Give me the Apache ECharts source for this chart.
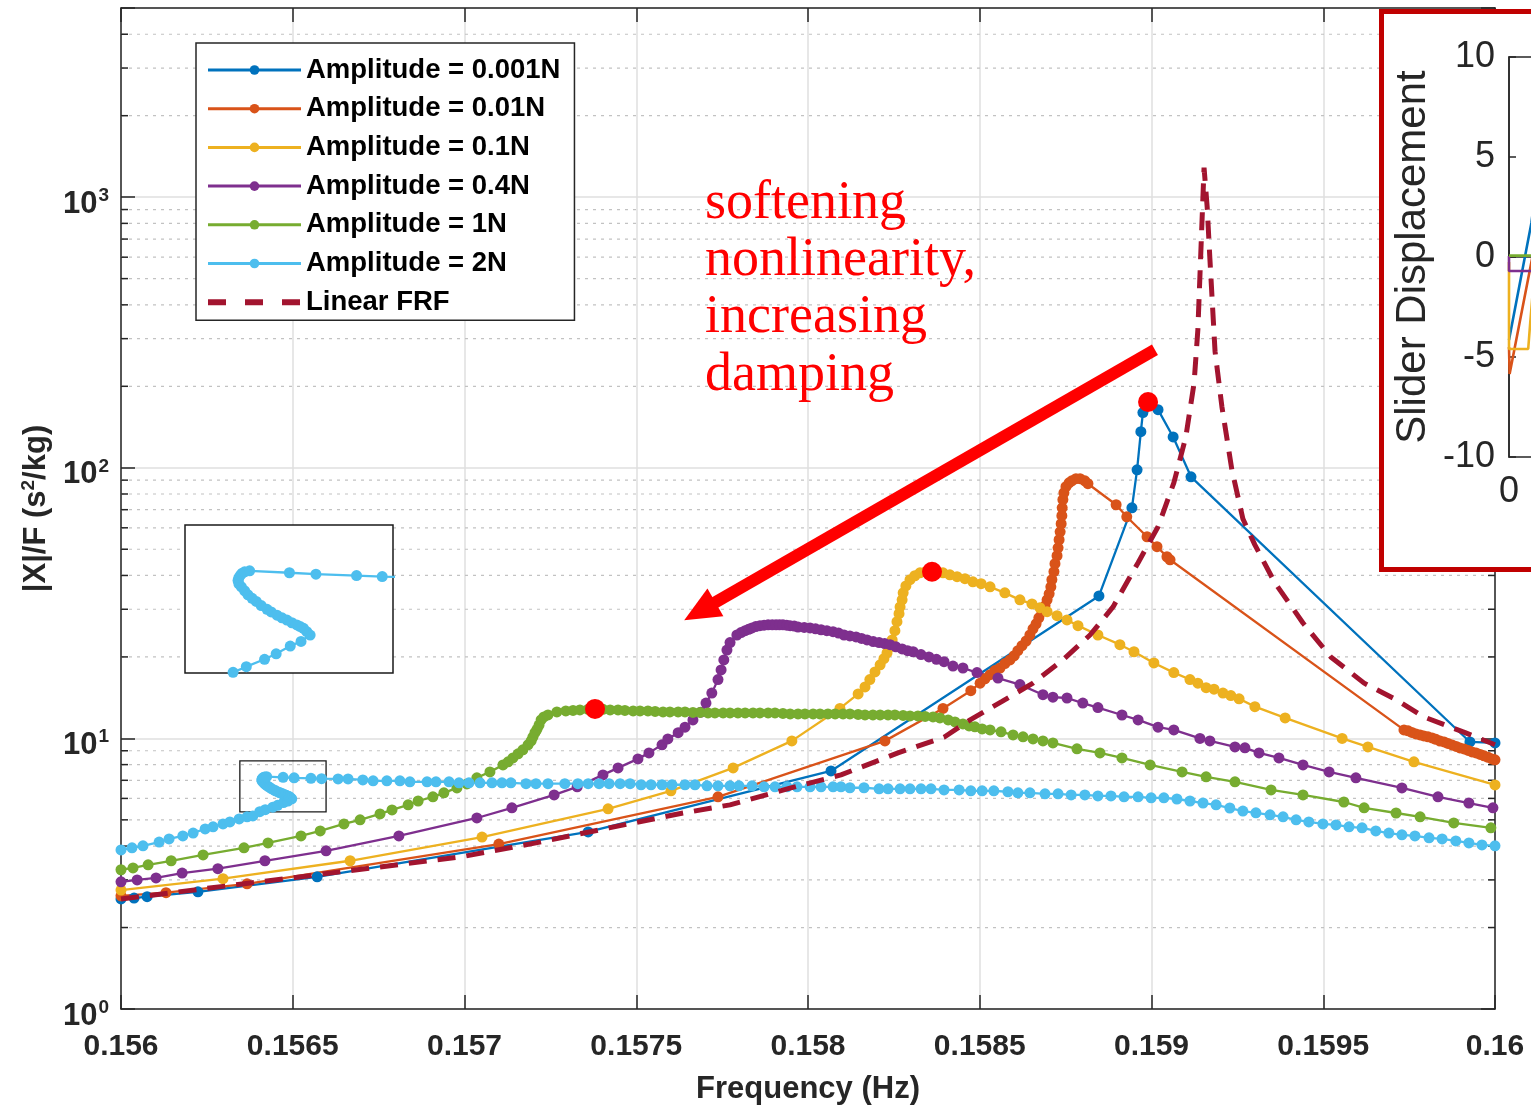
<!DOCTYPE html>
<html>
<head>
<meta charset="utf-8">
<title>Nonlinear FRF – softening and damping</title>
<script src="https://cdn.jsdelivr.net/npm/echarts@6/dist/echarts.min.js"></script>
<style>
  html, body { margin: 0; padding: 0; background: #fff; }
  #chart { width: 1531px; height: 1110px; }
</style>
</head>
<body>
<div id="chart"></div>
<script>
// ---------------- axes ----------------
const X_MIN = 0.156, X_MAX = 0.16, X_STEP = 0.0005;
const Y_MIN = 1, Y_MAX = 5000;
const xTickLabels = ['0.156', '0.1565', '0.157', '0.1575', '0.158', '0.1585', '0.159', '0.1595', '0.16'];
const yTickExponents = ['0', '1', '2', '3'];
const minorTickValues = [2, 3, 4, 5, 6, 7, 8, 9, 20, 30, 40, 50, 60, 70, 80, 90,
  200, 300, 400, 500, 600, 700, 800, 900, 2000, 3000, 4000];

// ---------------- series: [frequency (Hz), |X|/F (s^2/kg)] ----------------
const amp0001 = [[0.156000,2.55],[0.156038,2.57],[0.156076,2.60],[0.156224,2.71],[0.156571,3.08],
  [0.157360,4.51],[0.158067,7.58],[0.158847,33.6],[0.158943,71.1],[0.158958,98.3],[0.158969,136],
  [0.158975,160],[0.158990,175],[0.159019,164],[0.159063,130],[0.159115,92.6],[0.159927,9.70],[0.160000,9.62]];

const amp001 = [[0.156000,2.62],[0.156131,2.69],[0.156367,2.90],[0.157100,4.07],[0.157738,6.08],
  [0.158224,9.79],[0.158393,12.9],[0.158474,15.0],[0.158501,16.0],[0.158515,16.6],[0.158530,17.2],
  [0.158544,17.8],[0.158559,18.2],[0.158573,18.9],[0.158588,19.5],[0.158600,20.2],[0.158611,21.1],
  [0.158623,22.0],[0.158635,22.9],[0.158646,24.1],[0.158655,25.4],[0.158664,26.5],[0.158672,27.9],
  [0.158681,29.4],[0.158690,30.9],[0.158696,32.5],[0.158702,34.2],[0.158707,36.3],[0.158710,38.6],
  [0.158716,41.3],[0.158719,44.2],[0.158725,47.3],[0.158728,50.6],[0.158731,54.2],[0.158734,58.0],
  [0.158737,62.1],[0.158739,66.5],[0.158740,71.1],[0.158742,76.2],[0.158745,80.8],[0.158751,85.1],
  [0.158760,88.0],[0.158768,89.5],[0.158780,91.1],[0.158792,91.1],[0.158806,89.5],[0.158815,87.3],
  [0.158897,73.0],[0.158928,65.9],[0.158987,55.6],[0.159016,51.1],[0.159045,46.9],[0.159054,45.7],
  [0.159735,10.75],[0.159747,10.66],[0.159758,10.52],[0.159770,10.39],[0.159782,10.30],[0.159793,10.21],
  [0.159805,10.13],[0.159817,10.04],[0.159828,9.92],[0.159840,9.78],[0.159852,9.70],[0.159863,9.58],
  [0.159875,9.46],[0.159887,9.34],[0.159898,9.22],[0.159910,9.14],[0.159922,9.03],[0.159933,8.91],
  [0.159945,8.84],[0.159957,8.72],[0.159968,8.62],[0.159980,8.51],[0.159991,8.40],[0.160000,8.33]];

const amp01 = [[0.156000,2.75],[0.156297,3.03],[0.156667,3.53],[0.157051,4.32],[0.157418,5.49],
  [0.157601,6.40],[0.157782,7.78],[0.157953,9.79],[0.158093,12.9],[0.158146,14.6],[0.158166,15.5],
  [0.158180,16.5],[0.158195,17.6],[0.158210,18.7],[0.158221,19.7],[0.158230,20.7],[0.158239,21.8],
  [0.158245,23.1],[0.158253,25.0],[0.158259,27.0],[0.158265,28.9],[0.158268,30.6],[0.158274,32.5],
  [0.158277,34.5],[0.158285,36.6],[0.158297,38.6],[0.158311,39.9],[0.158326,40.9],[0.158343,41.3],
  [0.158361,41.3],[0.158393,40.9],[0.158413,40.2],[0.158434,39.6],[0.158457,38.9],[0.158480,37.9],
  [0.158504,37.3],[0.158530,36.3],[0.158573,34.5],[0.158617,32.5],[0.158652,31.4],[0.158675,30.4],
  [0.158696,29.4],[0.158725,28.4],[0.158754,27.4],[0.158786,26.1],[0.158844,24.1],[0.158908,22.2],
  [0.158949,20.9],[0.159007,19.0],[0.159065,17.5],[0.159112,16.5],[0.159135,16.0],[0.159159,15.4],
  [0.159182,15.2],[0.159208,14.7],[0.159231,14.4],[0.159255,14.0],[0.159301,13.1],[0.159389,11.9],
  [0.159555,10.0],[0.159630,9.30],[0.159764,8.19],[0.160000,6.73]];

const amp04 = [[0.156000,2.95],[0.156047,3.00],[0.156102,3.05],[0.156178,3.18],[0.156282,3.30],
  [0.156419,3.53],[0.156597,3.84],[0.156809,4.36],[0.157036,5.08],[0.157138,5.54],[0.157261,6.18],
  [0.157328,6.62],[0.157403,7.33],[0.157447,7.78],[0.157505,8.40],[0.157537,8.84],[0.157575,9.47],
  [0.157592,9.95],[0.157622,10.5],[0.157642,11.0],[0.157665,11.7],[0.157688,12.5],[0.157703,13.5],
  [0.157720,14.7],[0.157738,16.5],[0.157747,17.9],[0.157755,19.5],[0.157764,21.2],[0.157773,22.6],
  [0.157793,24.1],[0.157805,24.6],[0.157817,25.0],[0.157827,25.3],[0.157837,25.6],[0.157848,25.9],
  [0.157860,26.1],[0.157872,26.2],[0.157884,26.3],[0.157896,26.3],[0.157907,26.3],[0.157917,26.3],
  [0.157927,26.3],[0.157938,26.2],[0.157948,26.1],[0.157960,26.0],[0.157971,25.8],[0.157989,25.7],
  [0.158006,25.6],[0.158022,25.4],[0.158038,25.2],[0.158055,25.0],[0.158073,24.8],[0.158089,24.5],
  [0.158105,24.1],[0.158122,23.9],[0.158140,23.7],[0.158156,23.4],[0.158172,23.1],[0.158190,22.8],
  [0.158207,22.6],[0.158223,22.4],[0.158239,22.2],[0.158256,21.8],[0.158274,21.4],[0.158290,21.1],
  [0.158306,20.9],[0.158329,20.4],[0.158352,20.0],[0.158374,19.6],[0.158396,19.2],[0.158422,18.5],
  [0.158451,18.2],[0.158492,17.5],[0.158553,16.7],[0.158617,15.8],[0.158684,14.5],[0.158713,14.2],
  [0.158754,14.1],[0.158800,13.5],[0.158844,13.0],[0.158914,12.2],[0.158961,11.7],[0.159019,11.0],
  [0.159065,10.75],[0.159141,10.0],[0.159170,9.79],[0.159243,9.30],[0.159272,9.23],[0.159313,8.84],
  [0.159371,8.47],[0.159441,7.98],[0.159517,7.52],[0.159595,7.15],[0.159729,6.56],[0.159834,6.08],
  [0.159924,5.77],[0.159994,5.54]];

const amp1 = [[0.156000,3.27],[0.156035,3.32],[0.156079,3.41],[0.156146,3.53],[0.156239,3.71],
  [0.156358,3.94],[0.156428,4.11],[0.156524,4.36],[0.156580,4.55],[0.156649,4.83],[0.156696,5.00],
  [0.156754,5.26],[0.156789,5.44],[0.156836,5.68],[0.156865,5.87],[0.156908,6.08],[0.156940,6.29],
  [0.156978,6.56],[0.157007,6.79],[0.157036,7.15],[0.157074,7.52],[0.157112,7.98],[0.157127,8.19],
  [0.157141,8.47],[0.157156,8.77],[0.157170,9.07],[0.157185,9.47],[0.157194,9.79],[0.157199,10.1],
  [0.157205,10.5],[0.157211,10.8],[0.157217,11.2],[0.157223,11.7],[0.157231,12.0],[0.157243,12.21],
  [0.157269,12.52],[0.157295,12.63],[0.157316,12.69],[0.157336,12.74],[0.157360,12.80],[0.157380,12.85],
  [0.157403,12.80],[0.157424,12.74],[0.157447,12.74],[0.157467,12.69],[0.157491,12.63],[0.157511,12.63],
  [0.157534,12.63],[0.157555,12.58],[0.157578,12.52],[0.157598,12.52],[0.157622,12.52],[0.157642,12.52],
  [0.157665,12.47],[0.157686,12.47],[0.157709,12.42],[0.157729,12.42],[0.157753,12.42],[0.157773,12.42],
  [0.157796,12.42],[0.157817,12.42],[0.157840,12.42],[0.157860,12.42],[0.157884,12.42],[0.157904,12.42],
  [0.157927,12.36],[0.157948,12.31],[0.157971,12.31],[0.157991,12.31],[0.158015,12.31],[0.158035,12.31],
  [0.158058,12.31],[0.158079,12.31],[0.158102,12.31],[0.158122,12.31],[0.158146,12.26],[0.158166,12.21],
  [0.158189,12.21],[0.158210,12.21],[0.158233,12.21],[0.158253,12.21],[0.158277,12.16],[0.158297,12.10],
  [0.158320,12.10],[0.158341,12.05],[0.158364,12.00],[0.158384,11.90],[0.158408,11.70],[0.158428,11.50],
  [0.158451,11.31],[0.158469,11.12],[0.158486,11.03],[0.158507,10.84],[0.158530,10.75],[0.158562,10.57],
  [0.158597,10.30],[0.158626,10.13],[0.158655,9.95],[0.158684,9.79],[0.158713,9.62],[0.158783,9.15],
  [0.158850,8.84],[0.158914,8.47],[0.158996,7.98],[0.159089,7.52],[0.159159,7.21],[0.159243,6.91],
  [0.159348,6.45],[0.159441,6.18],[0.159560,5.82],[0.159619,5.54],[0.159712,5.30],[0.159782,5.13],
  [0.159880,4.87],[0.159988,4.67]];

const amp2 = [[0.156000,3.87],[0.156032,3.94],[0.156064,4.01],[0.156111,4.14],[0.156140,4.25],
  [0.156180,4.36],[0.156210,4.47],[0.156245,4.63],[0.156268,4.71],[0.156297,4.83],[0.156317,4.91],
  [0.156344,5.04],[0.156367,5.13],[0.156384,5.17],[0.156404,5.36],[0.156420,5.45],[0.156442,5.57],
  [0.156456,5.66],[0.156473,5.79],[0.156486,5.87],[0.156497,5.98],[0.156493,6.04],[0.156489,6.10],
  [0.156485,6.13],[0.156481,6.16],[0.156475,6.20],[0.156469,6.25],[0.156463,6.29],[0.156457,6.34],
  [0.156450,6.40],[0.156445,6.45],[0.156438,6.52],[0.156432,6.60],[0.156427,6.66],[0.156422,6.73],
  [0.156418,6.81],[0.156414,6.89],[0.156411,6.95],[0.156410,7.02],[0.156411,7.08],[0.156413,7.13],
  [0.156415,7.17],[0.156418,7.20],[0.156424,7.22],[0.156472,7.18],[0.156504,7.15],[0.156553,7.12],
  [0.156584,7.10],[0.156632,7.08],[0.156661,7.08],[0.156704,7.02],[0.156734,6.97],[0.156774,6.97],
  [0.156812,6.97],[0.156841,6.91],[0.156891,6.91],[0.156917,6.91],[0.156955,6.91],[0.156984,6.85],
  [0.157013,6.85],[0.157045,6.85],[0.157080,6.85],[0.157109,6.85],[0.157135,6.85],[0.157179,6.80],
  [0.157208,6.80],[0.157243,6.80],[0.157292,6.80],[0.157330,6.80],[0.157360,6.80],[0.157392,6.80],
  [0.157421,6.80],[0.157453,6.80],[0.157482,6.80],[0.157514,6.74],[0.157543,6.74],[0.157575,6.74],
  [0.157604,6.74],[0.157642,6.74],[0.157671,6.74],[0.157706,6.68],[0.157738,6.68],[0.157773,6.68],
  [0.157799,6.68],[0.157837,6.68],[0.157872,6.62],[0.157904,6.62],[0.157939,6.62],[0.157968,6.62],
  [0.158006,6.62],[0.158038,6.62],[0.158073,6.62],[0.158096,6.62],[0.158122,6.57],[0.158163,6.57],
  [0.158207,6.51],[0.158233,6.51],[0.158268,6.51],[0.158297,6.51],[0.158329,6.51],[0.158358,6.51],
  [0.158396,6.45],[0.158440,6.45],[0.158474,6.40],[0.158507,6.40],[0.158541,6.40],[0.158582,6.35],
  [0.158611,6.29],[0.158646,6.29],[0.158690,6.24],[0.158728,6.24],[0.158766,6.18],[0.158806,6.18],
  [0.158844,6.13],[0.158882,6.13],[0.158920,6.08],[0.158961,6.08],[0.158999,6.03],[0.159036,6.03],
  [0.159074,5.97],[0.159112,5.87],[0.159150,5.77],[0.159188,5.68],[0.159228,5.53],[0.159266,5.39],
  [0.159304,5.31],[0.159345,5.22],[0.159383,5.13],[0.159421,5.00],[0.159458,4.91],[0.159499,4.83],
  [0.159537,4.79],[0.159575,4.71],[0.159613,4.67],[0.159653,4.55],[0.159691,4.47],[0.159729,4.40],
  [0.159767,4.36],[0.159808,4.29],[0.159846,4.25],[0.159886,4.18],[0.159924,4.11],[0.159962,4.04],
  [0.160000,4.01]];

const linearFRF = [[0.156000,2.55],[0.156568,3.13],[0.156990,3.65],[0.157208,4.11],[0.157421,4.67],
  [0.157636,5.30],[0.157773,5.68],[0.157950,6.56],[0.158096,7.33],[0.158262,8.84],[0.158396,10.1],
  [0.158472,11.7],[0.158565,13.7],[0.158655,16.0],[0.158742,19.5],[0.158821,24.1],[0.158888,30.6],
  [0.158961,44.6],[0.159019,60.5],[0.159065,88.0],[0.159100,130],[0.159124,206],[0.159135,324],
  [0.159147,812],[0.159153,1286],[0.159162,922],[0.159170,592],[0.159185,269],[0.159205,168],
  [0.159234,98.3],[0.159266,64.8],[0.159301,51.9],[0.159359,37.6],[0.159441,26.7],[0.159522,20.0],
  [0.159619,16.0],[0.159712,13.9],[0.159793,12.0],[0.159913,10.5],[0.160000,9.47]];

// resonance peaks of the 0.001N, 0.1N and 1N sweeps
const peakPoints = [[0.158990,175],[0.158361,41.3],[0.157380,12.85]];

// zoomed detail of the 2N turning point
const detailFreqRange = [0.156346, 0.156597];
const detailMagRange = [5.35, 8.26];

// trend arrow (tail, head)
const arrowTail = [0.159010, 273];
const arrowHead = [0.157685, 29.5];
const annotationLines = ['softening', 'nonlinearity,', 'increasing', 'damping'];

// slider displacement time histories: [time, displacement]
const sliderTickLabels = ['-10', '-5', '0', '5', '10'];
const slider0001 = [[0, -4.15], [5.6, 1.7], [7, 3.9]];
const slider001 = [[0, -4.5], [0.15, -5.85], [5.7, -0.15], [7, 1.2]];
const slider01 = [[0, -0.25], [0, -4.6], [4.8, -4.6], [5.3, -3.3], [6, -1.6]];
const slider04 = [[0, 0.05], [0, -0.7], [20, -0.7]];
const slider1 = [[0, 0.07], [20, 0.07]];

const names = ['Amplitude = 0.001N', 'Amplitude = 0.01N', 'Amplitude = 0.1N',
  'Amplitude = 0.4N', 'Amplitude = 1N', 'Amplitude = 2N', 'Linear FRF'];
const colors = ['#0072BD', '#D95319', '#EDB120', '#7E2F8E', '#77AC30', '#4DBEEE', '#A2142F'];

const FONT = '"Liberation Sans", Arial, Helvetica, sans-serif';
const AX = '#262626';
const MARK = 11;

function ampSeries(i, data) {
  return {
    name: names[i], type: 'line', data: data,
    xAxisIndex: 0, yAxisIndex: 0,
    symbol: 'circle', symbolSize: MARK, showAllSymbol: true,
    lineStyle: { color: colors[i], width: 2.3 },
    itemStyle: { color: colors[i], borderWidth: 0, opacity: 1 },
    silent: true, animation: false, z: 2
  };
}

function sliderSeries(i, data) {
  return {
    name: 'slider ' + i, type: 'line', data: data,
    xAxisIndex: 3, yAxisIndex: 3, symbol: 'none',
    lineStyle: { color: colors[i], width: 2.6 },
    silent: true, z: 62
  };
}

const chart = echarts.init(document.getElementById('chart'), null, { renderer: 'canvas' });

const legendData = names.map((n, i) => i === 6
  ? { name: n, itemStyle: { opacity: 0 }, lineStyle: { width: 6, type: [18, 19], color: colors[6] } }
  : { name: n, lineStyle: { width: 3 } });

const option = {
  animation: false,
  backgroundColor: '#ffffff',
  textStyle: { fontFamily: FONT },
  grid: [
    { left: 121, top: 8, width: 1374, height: 1001, show: false, outerBoundsMode: 'none' },
    { left: 185, top: 525, width: 208, height: 148, show: true, backgroundColor: '#fff',
      borderColor: '#1a1a1a', borderWidth: 1.5, z: 10, outerBoundsMode: 'none' },
    { left: 1509, top: 57, width: 400, height: 400, show: true, backgroundColor: '#fff',
      borderColor: AX, borderWidth: 1.5, z: 60, outerBoundsMode: 'none' }
  ],
  xAxis: [
    { type: 'value', gridIndex: 0, position: 'bottom', min: X_MIN, max: X_MAX, interval: X_STEP,
      axisLine: { show: true, lineStyle: { color: AX, width: 1.5 } },
      axisTick: { show: true, inside: true, length: 14, lineStyle: { color: AX, width: 1.5 } },
      axisLabel: { show: true, interval: 0, margin: 23, color: AX, fontSize: 30, fontWeight: 'bold',
        fontFamily: FONT, showMinLabel: true, showMaxLabel: true,
        formatter: (v, i) => xTickLabels[i] !== undefined ? xTickLabels[i] : '' },
      splitLine: { show: true, lineStyle: { color: '#dfdfdf', width: 1.5 } },
      name: 'Frequency (Hz)', nameLocation: 'middle', nameGap: 65,
      nameTextStyle: { fontSize: 31, fontWeight: 'bold', color: AX, fontFamily: FONT } },
    { type: 'value', gridIndex: 0, position: 'top', min: X_MIN, max: X_MAX, interval: X_STEP,
      axisLine: { show: true, lineStyle: { color: AX, width: 1.5 } },
      axisTick: { show: true, inside: true, length: 14, lineStyle: { color: AX, width: 1.5 } },
      axisLabel: { show: false }, splitLine: { show: false } },
    { type: 'value', gridIndex: 1, min: detailFreqRange[0], max: detailFreqRange[1], show: false },
    { type: 'value', gridIndex: 2, min: 0, max: 100, interval: 50, z: 60,
      axisLine: { show: true, lineStyle: { color: AX, width: 1.5 } },
      axisTick: { show: true, inside: true, length: 7, lineStyle: { color: AX, width: 1.5 } },
      axisLabel: { show: true, margin: 17, color: AX, fontSize: 36, fontFamily: FONT,
        formatter: (v) => (v === 0 ? '0' : '') },
      splitLine: { show: false } }
  ],
  yAxis: [
    { type: 'log', logBase: 10, gridIndex: 0, position: 'left', min: Y_MIN, max: Y_MAX,
      axisLine: { show: true, lineStyle: { color: AX, width: 1.5 } },
      axisTick: { show: true, inside: true, length: 14, lineStyle: { color: AX, width: 1.5 } },
      axisLabel: { show: true, margin: 12, color: AX, fontSize: 30, fontWeight: 'bold', fontFamily: FONT,
        padding: [14, 0, 0, 0],
        formatter: (v) => {
          const e = Math.log10(v), r = Math.round(e);
          if (Math.abs(e - r) > 1e-6 || yTickExponents[r] === undefined) return '';
          return '{b|10}{s|' + yTickExponents[r] + '}';
        },
        rich: {
          b: { fontSize: 31, fontWeight: 'bold', color: AX, fontFamily: FONT },
          s: { fontSize: 19, fontWeight: 'bold', color: AX, fontFamily: FONT, padding: [0, 0, 17, 1] }
        } },
      splitLine: { show: true, lineStyle: { color: '#dfdfdf', width: 1.5 } },
      name: '|X|/F (s{s|2}/kg)', nameLocation: 'middle', nameGap: 67, nameRotate: 90,
      nameTextStyle: { fontSize: 31, fontWeight: 'bold', color: AX, fontFamily: FONT,
        rich: { s: { fontSize: 19, fontWeight: 'bold', color: AX, fontFamily: FONT, padding: [0, 0, 15, 0] } } } },
    { type: 'log', logBase: 10, gridIndex: 0, position: 'right', min: Y_MIN, max: Y_MAX,
      axisLine: { show: true, lineStyle: { color: AX, width: 1.5 } },
      axisTick: { show: true, inside: true, length: 14, lineStyle: { color: AX, width: 1.5 } },
      axisLabel: { show: false }, splitLine: { show: false } },
    { type: 'log', logBase: 10, gridIndex: 1, min: detailMagRange[0], max: detailMagRange[1], show: false },
    { type: 'value', gridIndex: 2, min: -10, max: 10, interval: 5, z: 60,
      axisLine: { show: true, lineStyle: { color: AX, width: 1.5 } },
      axisTick: { show: true, inside: true, length: 7, lineStyle: { color: AX, width: 1.5 } },
      axisLabel: { show: true, margin: 14, color: AX, fontSize: 36, fontFamily: FONT,
        formatter: (v, i) => sliderTickLabels[i] },
      splitLine: { show: false },
      name: 'Slider Displacement', nameLocation: 'middle', nameGap: 75, nameRotate: 90,
      nameTextStyle: { fontSize: 42, color: AX, fontFamily: FONT } }
  ],
  legend: {
    data: legendData, orient: 'vertical', left: 196, top: 43, z: 20,
    padding: [13, 14, 4, 9], itemGap: 10.7, itemWidth: 93, itemHeight: 12,
    backgroundColor: '#fff', borderColor: AX, borderWidth: 1.5, borderRadius: 0,
    selectedMode: false,
    textStyle: { fontSize: 27.5, fontWeight: 'bold', color: '#000', fontFamily: FONT,
      lineHeight: 28, padding: [0, 0, 0, 0] }
  },
  graphic: [
    { type: 'rect', z: 50, silent: true,
      shape: { x: 1381.5, y: 11.5, width: 300, height: 558 },
      style: { fill: '#fff', stroke: '#C00000', lineWidth: 5 } },
    { type: 'text', z: 6, left: 705, top: 175, silent: true,
      style: { text: annotationLines.join('\n'), fill: '#FF0000',
        font: '54px "Liberation Serif", "Times New Roman", serif', lineHeight: 57.3 } }
  ],
  series: [
    // dotted minor grid and minor ticks at 2..9 of each decade
    { type: 'custom', name: 'minor grid', xAxisIndex: 0, yAxisIndex: 0, silent: true, z: 1,
      data: minorTickValues.map(v => [X_MIN, v]),
      renderItem: (params, api) => {
        const v = api.value(1);
        const a = api.coord([X_MIN, v]);
        const b = api.coord([X_MAX, v]);
        return { type: 'group', children: [
          { type: 'line', shape: { x1: a[0], y1: a[1], x2: b[0], y2: b[1] },
            style: { stroke: '#c2c2c2', lineWidth: 1.2, lineDash: [3, 5] } },
          { type: 'line', shape: { x1: a[0], y1: a[1], x2: a[0] + 7, y2: a[1] },
            style: { stroke: AX, lineWidth: 1.5 } },
          { type: 'line', shape: { x1: b[0] - 7, y1: b[1], x2: b[0], y2: b[1] },
            style: { stroke: AX, lineWidth: 1.5 } }
        ] };
      } },
    ampSeries(0, amp0001),
    ampSeries(1, amp001),
    ampSeries(2, amp01),
    ampSeries(3, amp04),
    ampSeries(4, amp1),
    Object.assign(ampSeries(5, amp2), {
      markArea: { silent: true,
        itemStyle: { color: 'rgba(0,0,0,0)', borderColor: '#1a1a1a', borderWidth: 1.3 },
        data: [[{ coord: [detailFreqRange[0], detailMagRange[1]] },
                { coord: [detailFreqRange[1], detailMagRange[0]] }]] } }),
    { name: names[6], type: 'line', data: linearFRF, xAxisIndex: 0, yAxisIndex: 0,
      symbol: 'none', showSymbol: false, silent: true, z: 3,
      lineStyle: { color: colors[6], width: 5, type: [18, 11] },
      itemStyle: { color: colors[6] } },
    { name: 'peaks', type: 'scatter', data: peakPoints, xAxisIndex: 0, yAxisIndex: 0,
      symbol: 'circle', symbolSize: 20, itemStyle: { color: '#FF0000', opacity: 1 }, silent: true, z: 5,
      markLine: { silent: true, animation: false, symbol: ['none', 'triangle'], symbolSize: [32, 36],
        label: { show: false },
        lineStyle: { color: '#FF0000', width: 12, type: 'solid', opacity: 1 },
        data: [[{ coord: arrowTail }, { coord: arrowHead }]] } },
    // zoomed detail of the 2N turning point
    { name: 'detail 2N', type: 'line', data: amp2, xAxisIndex: 2, yAxisIndex: 2,
      symbol: 'circle', symbolSize: MARK, showAllSymbol: true, silent: true, z: 12,
      lineStyle: { color: colors[5], width: 2.3 }, itemStyle: { color: colors[5], opacity: 1 } },
    // slider displacement panel
    sliderSeries(0, slider0001),
    sliderSeries(1, slider001),
    sliderSeries(2, slider01),
    sliderSeries(3, slider04),
    sliderSeries(4, slider1)
  ]
};

chart.setOption(option);
</script>
</body>
</html>
